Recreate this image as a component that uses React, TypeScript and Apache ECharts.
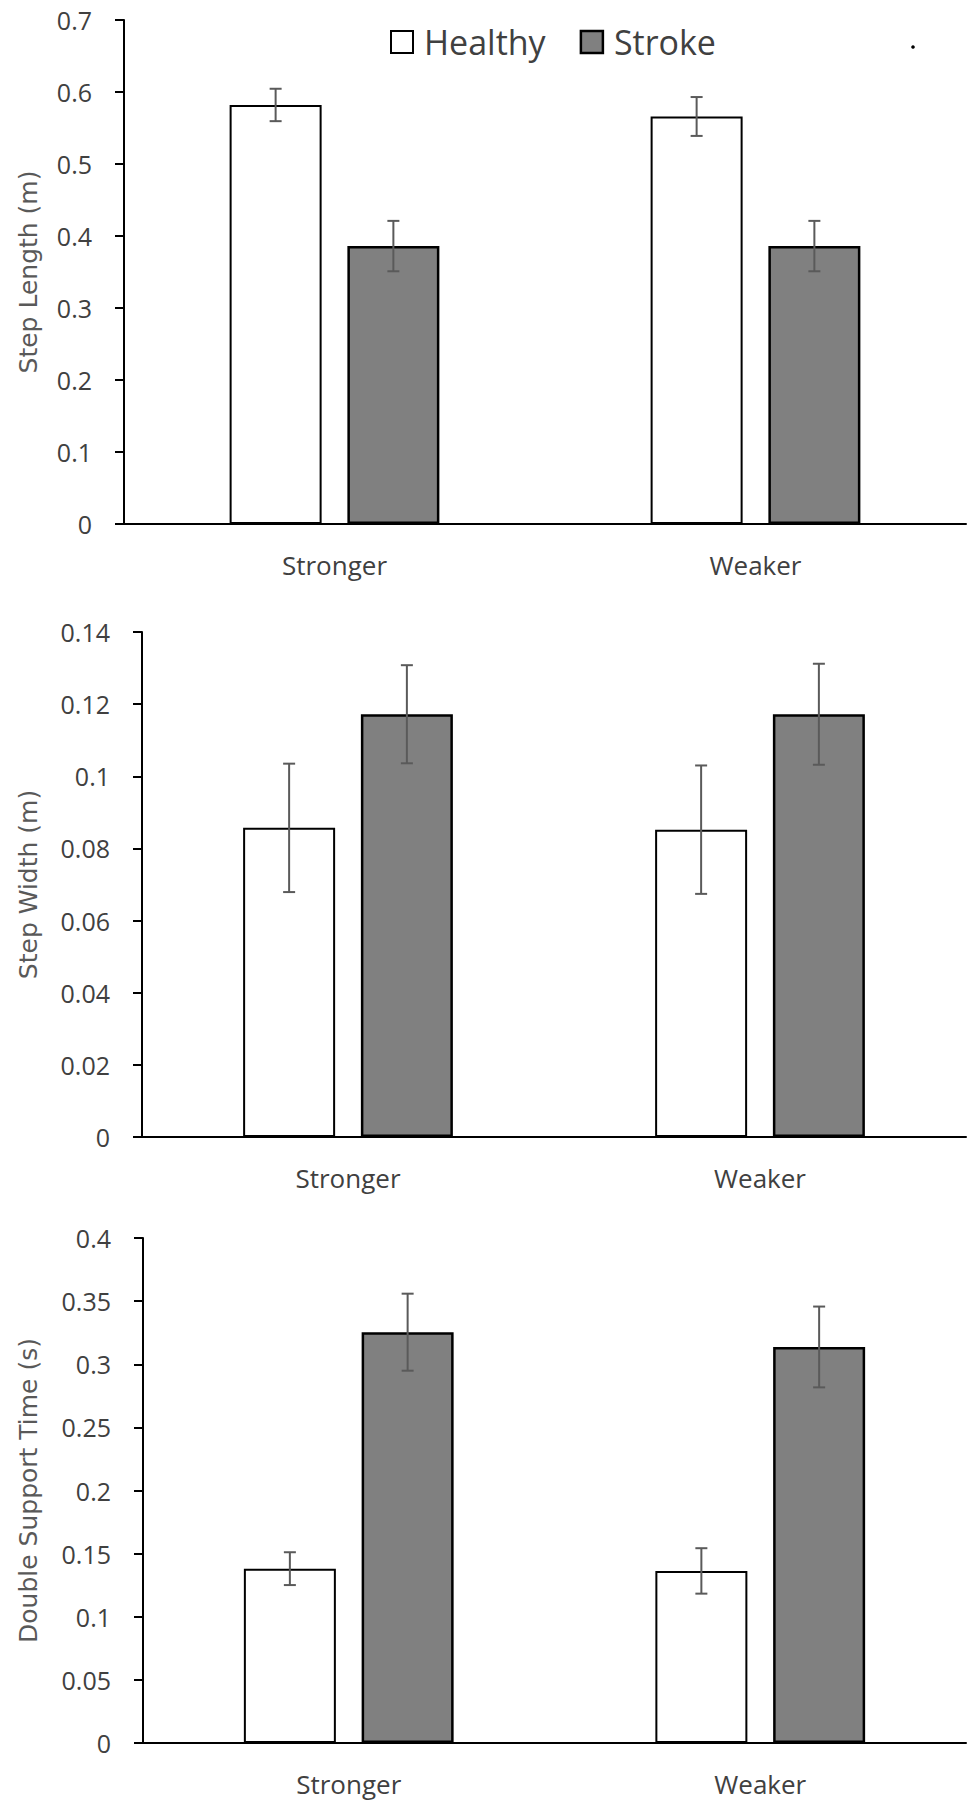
import React, { useEffect, useRef } from "react";
import * as echarts from "echarts";

const categories = ["Stronger", "Weaker"];
const seriesNames = ["Healthy", "Stroke"];

// Step Length (m)
const stepLengthHealthy = [0.582, 0.566];
const stepLengthHealthyErr = [0.0225, 0.027];
const stepLengthStroke = [0.386, 0.386];
const stepLengthStrokeErr = [0.035, 0.035];

// Step Width (m)
const stepWidthHealthy = [0.0857, 0.0852];
const stepWidthHealthyErr = [0.0178, 0.0178];
const stepWidthStroke = [0.1172, 0.1172];
const stepWidthStrokeErr = [0.0136, 0.014];

// Double Support Time (s)
const dstHealthy = [0.1381, 0.1363];
const dstHealthyErr = [0.013, 0.018];
const dstStroke = [0.3254, 0.3137];
const dstStrokeErr = [0.0305, 0.032];

const yTitles = ["Step Length (m)", "Step Width (m)", "Double Support Time (s)"];
const yMax = [0.7, 0.14, 0.4];
const yInterval = [0.1, 0.02, 0.05];

const panels = [
  { healthy: stepLengthHealthy, healthyErr: stepLengthHealthyErr, stroke: stepLengthStroke, strokeErr: stepLengthStrokeErr },
  { healthy: stepWidthHealthy, healthyErr: stepWidthHealthyErr, stroke: stepWidthStroke, strokeErr: stepWidthStrokeErr },
  { healthy: dstHealthy, healthyErr: dstHealthyErr, stroke: dstStroke, strokeErr: dstStrokeErr },
];

const W = 975;
const H = 1808;
const gridBoxes = [
  { left: 124, top: 20, height: 504 },
  { left: 142, top: 632, height: 505 },
  { left: 143, top: 1238, height: 505 },
];
const BAR_W = 92;
const BAR_GAP = 0.28;
const FONT = "'Open Sans', 'Noto Sans', sans-serif";

function errSeries(idx: number, values: number[], errs: number[], offset: number) {
  return {
    type: "custom",
    xAxisIndex: idx,
    yAxisIndex: idx,
    silent: true,
    z: 5,
    encode: { x: 0, y: [1, 2] },
    data: values.map((v, i) => [i, v - errs[i], v + errs[i]]),
    renderItem: (params: any, api: any) => {
      const cat = api.value(0);
      const lo = api.coord([cat, api.value(1)]);
      const hi = api.coord([cat, api.value(2)]);
      const x = lo[0] + offset;
      const style = { stroke: "#5a5a5a", lineWidth: 2 };
      return {
        type: "group",
        children: [
          { type: "line", shape: { x1: x, y1: lo[1], x2: x, y2: hi[1] }, style },
          { type: "line", shape: { x1: x - 6, y1: hi[1], x2: x + 6, y2: hi[1] }, style },
          { type: "line", shape: { x1: x - 6, y1: lo[1], x2: x + 6, y2: lo[1] }, style },
        ],
      };
    },
  };
}

export default function App() {
  const ref = useRef<HTMLDivElement>(null);

  useEffect(() => {
    if (!ref.current) return;
    const chart = echarts.init(ref.current, undefined, { renderer: "svg" });
    const offset = (BAR_W + BAR_W * BAR_GAP) / 2;

    const grid = gridBoxes.map((g) => ({ left: g.left, top: g.top, height: g.height, right: 9 }));
    const xAxis = gridBoxes.map((_, i) => ({
      type: "category",
      gridIndex: i,
      data: categories,
      axisLine: { show: true, lineStyle: { color: "#000", width: 2 } },
      axisTick: { show: false },
      axisLabel: { color: "#404040", fontSize: 26, fontFamily: FONT, margin: 28 },
      splitLine: { show: false },
    }));
    const yAxis = gridBoxes.map((_, i) => ({
      type: "value",
      gridIndex: i,
      min: 0,
      max: yMax[i],
      interval: yInterval[i],
      axisLine: { show: true, lineStyle: { color: "#000", width: 2 } },
      axisTick: { show: true, length: 9, lineStyle: { color: "#000", width: 2 } },
      axisLabel: { color: "#404040", fontSize: 25, fontFamily: FONT, margin: 32 },
      splitLine: { show: false },
    }));

    const series: any[] = [];
    panels.forEach((p, i) => {
      series.push({
        name: seriesNames[0],
        type: "bar",
        xAxisIndex: i,
        yAxisIndex: i,
        barWidth: BAR_W,
        barGap: BAR_GAP * 100 + "%",
        data: p.healthy,
        itemStyle: { color: "#ffffff", borderColor: "#000", borderWidth: 2 },
        silent: true,
      });
      series.push({
        name: seriesNames[1],
        type: "bar",
        xAxisIndex: i,
        yAxisIndex: i,
        barWidth: BAR_W,
        barGap: BAR_GAP * 100 + "%",
        data: p.stroke,
        itemStyle: { color: "#808080", borderColor: "#000", borderWidth: 2.5 },
        silent: true,
      });
      series.push(errSeries(i, p.healthy, p.healthyErr, -offset));
      series.push(errSeries(i, p.stroke, p.strokeErr, offset));
    });

    const graphic: any[] = gridBoxes.map((g, i) => ({
      type: "text",
      x: 28,
      y: g.top + g.height / 2,
      rotation: Math.PI / 2,
      style: {
        text: yTitles[i],
        fill: "#595959",
        fontSize: 25,
        fontFamily: "'DejaVu Sans', sans-serif",
        align: "center",
        verticalAlign: "middle",
      },
    }));
    graphic.push({ type: "circle", shape: { cx: 913, cy: 47, r: 1.8 }, style: { fill: "#000" } });

    chart.setOption({
      animation: false,
      backgroundColor: "#ffffff",
      grid,
      xAxis,
      yAxis,
      legend: {
        left: 390,
        top: 25,
        padding: 0,
        itemWidth: 22,
        itemHeight: 22,
        itemGap: 34,
        selectedMode: false,
        textStyle: { fontSize: 34, color: "#404040", fontFamily: FONT, padding: [0, 0, 0, 6] },
        data: [
          { name: seriesNames[0], icon: "rect", itemStyle: { color: "#ffffff", borderColor: "#000", borderWidth: 2 } },
          { name: seriesNames[1], icon: "rect", itemStyle: { color: "#808080", borderColor: "#000", borderWidth: 2.5 } },
        ],
      },
      graphic,
      series,
    });

    return () => chart.dispose();
  }, []);

  return (
    <div
      ref={ref}
      style={{ position: "absolute", left: 0, top: 0, width: W, height: H, background: "#fff" }}
    />
  );
}
